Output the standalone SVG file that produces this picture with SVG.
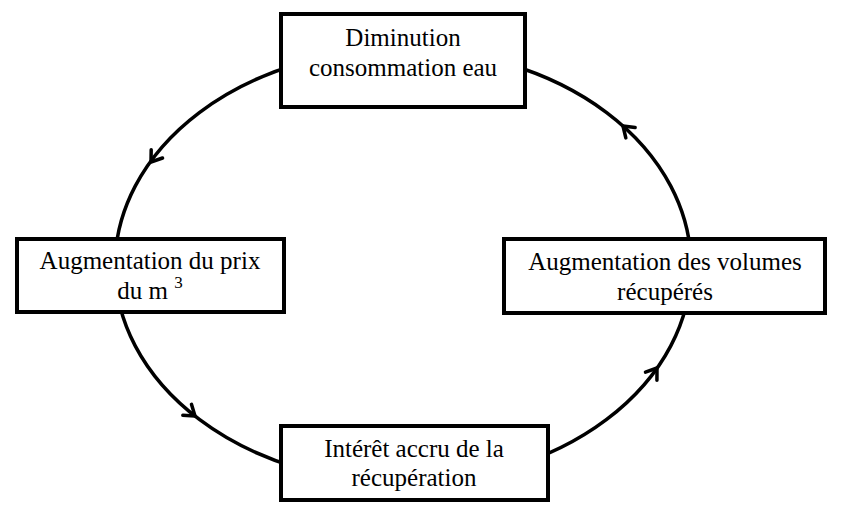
<svg xmlns="http://www.w3.org/2000/svg" width="843" height="515" viewBox="0 0 843 515">
<style>
.box{fill:#fff;stroke:#000;stroke-width:4}
.t{font-family:'Liberation Serif','Times New Roman',Tinos,'DejaVu Serif',serif;font-size:25px;fill:#000;text-anchor:middle}
.arr{fill:none;stroke:#000;stroke-width:3.5;stroke-linecap:round;stroke-linejoin:round}
</style>
<defs>
<path id="chev" d="M -10 -7 L 0 0 L -10 7" class="arr"/>
</defs>
<rect width="843" height="515" fill="#fff"/>
<g id="connectors">
<ellipse cx="403" cy="266" rx="288" ry="217" fill="none" stroke="#000" stroke-width="3.5"/>
<use href="#chev" transform="translate(151,162) rotate(125.9)"/>
<use href="#chev" transform="translate(623,126) rotate(-138.3)"/>
<use href="#chev" transform="translate(195,416) rotate(38.2)"/>
<use href="#chev" transform="translate(657,368) rotate(-54.7)"/>
</g>
<g id="n1">
<rect class="box" x="281" y="14" width="244" height="93"/>
<text class="t" font-family="Liberation Serif, serif" x="403" y="46">Diminution</text>
<text class="t" font-family="Liberation Serif, serif" x="403" y="76">consommation eau</text>
</g>
<g id="n2">
<rect class="box" x="17" y="239" width="267" height="73"/>
<text class="t" font-family="Liberation Serif, serif" x="150" y="269">Augmentation du prix</text>
<text class="t" font-family="Liberation Serif, serif" x="150" y="299">du m <tspan font-size="17" dy="-11">3</tspan></text>
</g>
<g id="n3">
<rect class="box" x="504" y="239" width="321" height="74"/>
<text class="t" font-family="Liberation Serif, serif" x="665" y="270">Augmentation des volumes</text>
<text class="t" font-family="Liberation Serif, serif" x="665" y="300">récupérés</text>
</g>
<g id="n4">
<rect class="box" x="281" y="426" width="267" height="74"/>
<text class="t" font-family="Liberation Serif, serif" x="414" y="457">Intérêt accru de la</text>
<text class="t" font-family="Liberation Serif, serif" x="414" y="486">récupération</text>
</g>
</svg>
